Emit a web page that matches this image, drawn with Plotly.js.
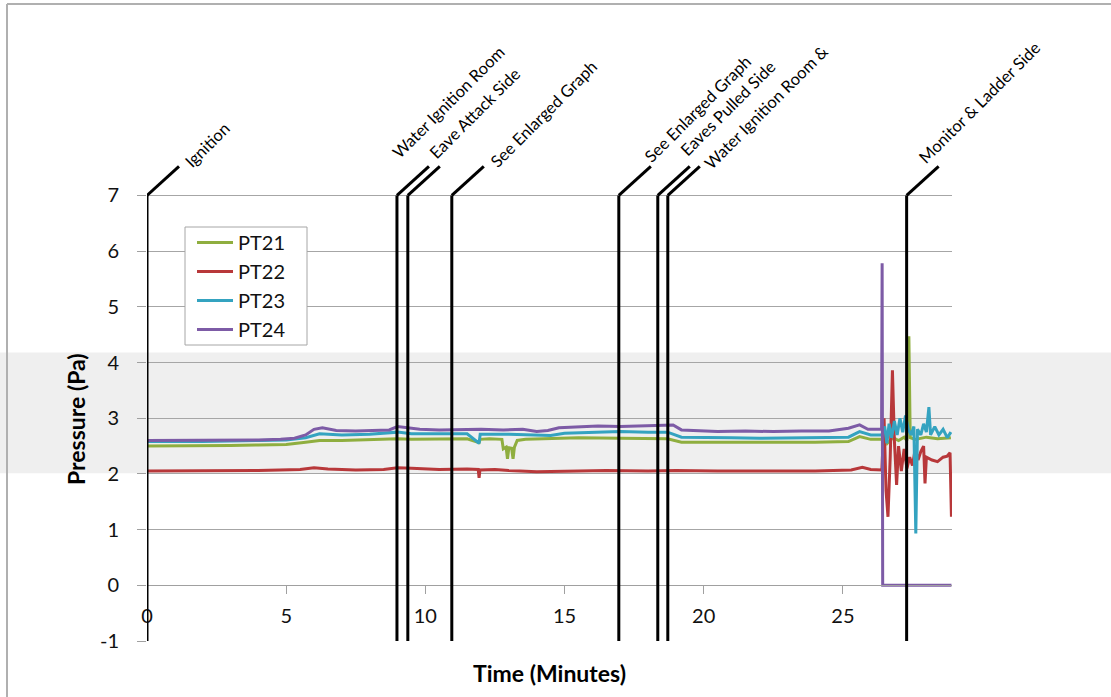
<!DOCTYPE html>
<html>
<head>
<meta charset="utf-8">
<script src="https://cdn.plot.ly/plotly-3.0.1.min.js"></script>
<style>html,body{margin:0;padding:0;background:#fff;}#chart{width:1111px;height:697px;}</style>
</head>
<body>
<div id="chart"></div>
<script>
// ---------- DATA ----------
const seriesNames = ["PT21", "PT22", "PT23", "PT24"];

const t21 = [0, 1, 2, 3, 4, 5, 5.7, 6.2, 7, 8, 9, 9.5, 10.5, 11.5, 11.93, 11.97, 12.3, 12.75, 12.8, 12.9, 12.95, 13.0, 13.1, 13.15, 13.2, 13.3, 13.6, 14.5, 15.5, 17, 18, 18.7, 19.2, 20, 21, 22, 23, 24, 25.2, 25.6, 26, 26.4, 26.5, 26.6, 26.8, 27.0, 27.2, 27.3, 27.37, 27.42, 27.6, 28, 28.4, 28.88];
const pt21 = [2.5, 2.5, 2.51, 2.51, 2.52, 2.53, 2.57, 2.6, 2.6, 2.61, 2.63, 2.62, 2.62, 2.63, 2.56, 2.62, 2.63, 2.62, 2.45, 2.48, 2.27, 2.47, 2.46, 2.27, 2.48, 2.6, 2.62, 2.63, 2.65, 2.64, 2.64, 2.63, 2.57, 2.57, 2.56, 2.57, 2.56, 2.57, 2.58, 2.67, 2.62, 2.62, 2.72, 2.55, 2.65, 2.6, 2.66, 2.6, 4.47, 2.65, 2.62, 2.66, 2.63, 2.65];

const t22 = [0, 2, 4, 5.5, 6.0, 6.5, 7.5, 8.5, 9.0, 9.5, 10.5, 11.5, 11.9, 11.93, 11.96, 12.5, 13, 14, 15, 16.5, 18, 19, 20.5, 22, 24, 25.3, 25.7, 26.0, 26.4, 26.48, 26.55, 26.62, 26.7, 26.78, 26.85, 26.93, 27.0, 27.1, 27.2, 27.3, 27.4, 27.5, 27.6, 27.7, 27.8, 27.9, 27.95, 28.0, 28.2, 28.4, 28.6, 28.75, 28.85, 28.9];
const pt22 = [2.05, 2.05, 2.06, 2.08, 2.11, 2.09, 2.07, 2.08, 2.11, 2.1, 2.08, 2.09, 2.08, 1.93, 2.07, 2.08, 2.06, 2.04, 2.05, 2.06, 2.05, 2.06, 2.05, 2.05, 2.05, 2.07, 2.12, 2.08, 2.07, 3.0, 1.7, 1.23, 2.3, 3.86, 2.6, 1.8, 2.5, 2.05, 2.45, 2.1, 2.3, 2.15, 2.45, 2.25, 2.4, 2.5, 1.83, 2.3, 2.25, 2.22, 2.3, 2.32, 2.38, 1.23];

const t23 = [0, 2, 4, 5, 5.7, 6.2, 7, 8, 9, 9.5, 10.5, 11.5, 11.93, 11.97, 13, 14, 14.5, 15, 16, 17, 18, 18.7, 19.2, 20, 21, 22, 23, 24, 25.2, 25.6, 26, 26.4, 26.5, 26.58, 26.66, 26.75, 26.85, 26.95, 27.05, 27.15, 27.25, 27.35, 27.45, 27.55, 27.62, 27.68, 27.8, 27.9, 28.0, 28.09, 28.15, 28.3, 28.45, 28.6, 28.75, 28.88];
const pt23 = [2.58, 2.58, 2.6, 2.61, 2.65, 2.72, 2.7, 2.71, 2.75, 2.72, 2.72, 2.72, 2.55, 2.71, 2.71, 2.7, 2.69, 2.73, 2.75, 2.76, 2.75, 2.75, 2.66, 2.65, 2.65, 2.64, 2.65, 2.65, 2.66, 2.76, 2.7, 2.7, 2.85, 2.55, 2.9, 2.65, 2.95, 2.7, 3.0, 2.75, 3.05, 2.8, 2.7, 2.85, 0.93, 2.8, 2.7, 2.9, 2.75, 3.2, 2.7, 2.85, 2.7, 2.8, 2.65, 2.75];

const t24 = [0, 1, 2, 3, 4, 4.8, 5.3, 5.7, 6.0, 6.3, 6.8, 7.5, 8.2, 8.7, 9.0, 9.3, 9.8, 10.5, 11.2, 12, 12.8, 13.5, 14.0, 14.4, 14.8, 15.5, 16.2, 17, 17.8, 18.4, 18.9, 19.2, 19.8, 20.5, 21.5, 22.5, 23.5, 24.5, 25.2, 25.6, 25.9, 26.2, 26.39, 26.41, 26.43, 27, 28, 28.9];
const pt24 = [2.6, 2.6, 2.61, 2.6, 2.61, 2.62, 2.64, 2.7, 2.8, 2.83, 2.78, 2.77, 2.78, 2.79, 2.85, 2.83, 2.8, 2.79, 2.8, 2.8, 2.79, 2.8, 2.76, 2.78, 2.83, 2.85, 2.86, 2.85, 2.86, 2.87, 2.88, 2.79, 2.77, 2.76, 2.77, 2.76, 2.77, 2.77, 2.82, 2.88, 2.8, 2.8, 2.8, 5.78, 0, 0, 0, 0];

const eventTimes = [0, 8.98, 9.37, 10.95, 16.95, 18.35, 18.71, 27.29];
const eventLabels = ["Ignition", "Water Ignition Room", "Eave Attack Side", "See Enlarged Graph", "See Enlarged Graph", "Eaves Pulled Side", "Water Ignition Room &", "Monitor & Ladder Side"];

const xTicks = [0, 5, 10, 15, 20, 25];
const yTicks = [-1, 0, 1, 2, 3, 4, 5, 6, 7];

// ---------- STYLE / LAYOUT ----------
const colors = ["#8fae3f", "#b8383a", "#34a3c0", "#7d5ba6"];
const labelShift = [[31, 21], [-11, 30], [15, 30], [32, 21], [19, 26], [16, 33], [30, 20], [5, 25]];
const FONT = "Lato, 'Open Sans', sans-serif";
const W = 1111, H = 697;
const L = 147, R = 159, T = 162, B = 56;
const plotW = W - L - R, plotH = H - T - B;
const fx = px => (px - L) / plotW;
const fy = py => (H - B - py) / plotH;
const yMin = -1, yMax = 7.6, yTop = 7;

const tSets = [t21, t22, t23, t24];
const vSets = [pt21, pt22, pt23, pt24];
const traces = seriesNames.map((n, i) => ({
  x: tSets[i], y: vSets[i], name: n, type: "scatter", mode: "lines",
  line: {color: colors[i], width: 3}
}));

const shapes = [];
// light grey horizontal band (scan artifact)
shapes.push({type: "rect", xref: "paper", yref: "y", x0: fx(0), x1: fx(W), y0: 2.01, y1: 4.18,
  fillcolor: "#efefef", line: {width: 0}, layer: "below"});
// outer frame (left and top edges)
shapes.push({type: "line", xref: "paper", yref: "paper", x0: fx(7), x1: fx(7), y0: fy(4), y1: fy(H), line: {color: "#b0b0b0", width: 2}});
shapes.push({type: "line", xref: "paper", yref: "paper", x0: fx(7), x1: fx(W), y0: fy(4), y1: fy(4), line: {color: "#b0b0b0", width: 2}});
// legend box
shapes.push({type: "rect", xref: "paper", yref: "paper", x0: fx(185), x1: fx(307), y0: fy(345), y1: fy(227),
  fillcolor: "#ffffff", line: {color: "#a6a6a6", width: 1}, layer: "above"});
// event lines
eventTimes.forEach(t => {
  shapes.push({type: "line", xref: "x", yref: "y", x0: t, x1: t, y0: yMin, y1: yTop, line: {color: "#000", width: 3}});
  shapes.push({type: "line", xref: "x", yref: "y", xsizemode: "pixel", ysizemode: "pixel",
    xanchor: t, yanchor: yTop, x0: 0, x1: 32, y0: 0, y1: 29, line: {color: "#000", width: 3}});
});

const annotations = eventTimes.map((t, i) => ({
  x: t, y: yTop, xref: "x", yref: "y", text: eventLabels[i], showarrow: false,
  textangle: -45, xanchor: "left", yanchor: "bottom",
  xshift: labelShift[i][0], yshift: labelShift[i][1],
  font: {family: FONT, size: 16.5, color: "#000"}
}));
annotations.push({x: fx(549), y: fy(673), xref: "paper", yref: "paper", text: "<b>Time (Minutes)</b>",
  showarrow: false, xanchor: "center", yanchor: "middle", font: {family: FONT, size: 23, color: "#000"}});
annotations.push({x: fx(76), y: fy(419), xref: "paper", yref: "paper", text: "<b>Pressure (Pa)</b>",
  showarrow: false, textangle: -90, xanchor: "center", yanchor: "middle", font: {family: FONT, size: 23, color: "#000"}});

const layout = {
  width: W, height: H,
  margin: {l: L, r: R, t: T, b: B, pad: 0},
  paper_bgcolor: "#ffffff", plot_bgcolor: "rgba(0,0,0,0)",
  font: {family: FONT, color: "#000"},
  showlegend: true,
  legend: {x: fx(192), y: fy(223), xanchor: "left", yanchor: "top", bgcolor: "rgba(0,0,0,0)",
    borderwidth: 0, itemwidth: 36, font: {family: FONT, size: 20, color: "#111"}},
  xaxis: {range: [0, 28.92], tickvals: xTicks, ticktext: xTicks.map(String), anchor: "free",
    position: (0 - yMin) / (yMax - yMin), showline: true, linecolor: "#a0a0a0", linewidth: 1,
    ticks: "outside", ticklen: 8, tickcolor: "#a0a0a0", showgrid: false, zeroline: false,
    ticklabelstandoff: 5, tickfont: {family: FONT, size: 20, color: "#111"}, fixedrange: true},
  yaxis: {range: [yMin, yMax], tickvals: yTicks, ticktext: yTicks.map(String), showgrid: true,
    gridcolor: "#a6a6a6", gridwidth: 1, zeroline: false, showline: false,
    ticks: "outside", ticklen: 9, tickcolor: "#a0a0a0", ticklabelstandoff: 14,
    tickfont: {family: FONT, size: 20, color: "#111"}, fixedrange: true},
  shapes: shapes,
  annotations: annotations
};

Plotly.newPlot("chart", traces, layout, {displayModeBar: false, staticPlot: true});
</script>
</body>
</html>
